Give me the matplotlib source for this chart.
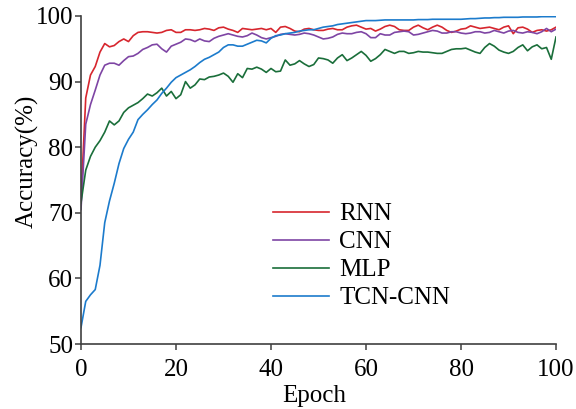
import matplotlib
matplotlib.use("Agg")
import matplotlib.pyplot as plt

epochs = list(range(0, 101))

rnn = [72, 87.5, 91, 92.3, 94.5, 95.8, 95.3, 95.5, 96.1, 96.5,
       96.1, 97.0, 97.5, 97.6, 97.6, 97.5, 97.4, 97.5, 97.8, 97.9,
       97.5, 97.5, 97.9, 97.9, 97.8, 97.9, 98.1, 98.0, 97.8, 98.2,
       98.3, 98.0, 97.8, 97.5, 98.1, 98.0, 97.9, 98.0, 98.1, 97.9,
       98.1, 97.5, 98.3, 98.4, 98.1, 97.7, 97.6, 98.0, 98.1, 97.9,
       97.8, 97.8, 98.0, 98.1, 97.9, 97.9, 98.3, 98.5, 98.6, 98.3,
       98.0, 98.1, 97.7, 98.0, 98.4, 98.6, 98.4, 97.9, 97.8, 97.8,
       98.3, 98.6, 98.2, 97.9, 98.3, 98.6, 98.3, 97.8, 97.5, 97.7,
       98.0, 98.1, 98.5, 98.3, 98.1, 98.2, 98.3, 98.1, 97.9, 98.3,
       98.5, 97.3, 98.2, 98.3, 98.0, 97.5, 97.8, 97.9, 97.7, 97.9,
       98.3]

cnn = [70.5, 83.5, 86.5, 88.7, 91, 92.5, 92.8, 92.8, 92.5, 93.2,
       93.8, 93.9, 94.3, 94.9, 95.2, 95.6, 95.7, 95.0, 94.5, 95.4,
       95.7, 96.0, 96.5, 96.4, 96.1, 96.5, 96.2, 96.1, 96.6, 96.9,
       97.1, 97.3, 97.1, 96.9, 96.8, 97.0, 97.4, 97.1, 96.7, 96.5,
       96.7, 96.9, 97.2, 97.3, 97.2, 97.1, 97.2, 97.4, 97.3, 97.1,
       96.8, 96.5, 96.6, 96.8, 97.2, 97.4, 97.3, 97.3, 97.5, 97.6,
       97.3, 96.7, 96.7, 97.3, 97.1, 97.1, 97.5, 97.6, 97.7, 97.6,
       97.1, 97.2, 97.4, 97.6, 97.8, 97.7, 97.4, 97.4, 97.6, 97.6,
       97.4, 97.3, 97.4, 97.6, 97.6, 97.4, 97.5, 97.8, 97.6, 97.4,
       97.7, 97.8, 97.5, 97.4, 97.6, 97.5, 97.3, 97.6, 98.1, 97.6,
       98.0]

mlp = [71.5, 76.5, 78.6, 80.0, 81.0, 82.3, 84.0, 83.4, 84.0, 85.3,
       86.0, 86.4, 86.8, 87.4, 88.1, 87.8, 88.3, 89.0, 87.8, 88.5,
       87.4, 88.0, 90.0, 89.0, 89.5, 90.4, 90.3, 90.7, 90.8, 91.0,
       91.3, 90.8, 89.9, 91.2, 90.6, 92.0, 91.9, 92.2, 91.9, 91.4,
       92.0, 91.5, 91.6, 93.3, 92.5, 92.7, 93.2, 92.7, 92.3, 92.6,
       93.6, 93.5, 93.3, 92.8, 93.6, 94.1, 93.2, 93.6, 94.1, 94.6,
       94.0, 93.1, 93.5, 94.1, 94.9, 94.6, 94.3, 94.6, 94.6, 94.3,
       94.4, 94.6, 94.5, 94.5, 94.4, 94.3, 94.3, 94.6, 94.9, 95.0,
       95.0, 95.1, 94.8, 94.5, 94.3, 95.2, 95.8, 95.4, 94.8, 94.5,
       94.3, 94.6, 95.2, 95.6, 94.7, 95.3, 95.6, 95.0, 95.2, 93.4,
       96.8]

tcn_cnn = [52.5, 56.5, 57.5, 58.3, 62.0, 68.5, 71.8, 74.5, 77.5, 79.8,
           81.2, 82.3, 84.2, 85.0, 85.7, 86.5, 87.2, 88.2, 89.0, 89.9,
           90.6, 91.0, 91.4, 91.8, 92.3, 92.9, 93.4, 93.7, 94.1, 94.5,
           95.2, 95.6, 95.6, 95.4, 95.4, 95.7, 96.0, 96.3, 96.2, 95.9,
           96.6, 97.0, 97.1, 97.3, 97.4, 97.5, 97.7, 97.8, 97.9, 97.9,
           98.1, 98.3, 98.4, 98.5, 98.7, 98.8, 98.9, 99.0, 99.1, 99.2,
           99.3, 99.3, 99.3, 99.35, 99.4, 99.4, 99.4, 99.4, 99.4, 99.4,
           99.4, 99.45, 99.45, 99.45, 99.5, 99.5, 99.5, 99.5, 99.5, 99.5,
           99.5, 99.55, 99.6, 99.6, 99.65, 99.7, 99.7, 99.75, 99.75, 99.8,
           99.8, 99.8, 99.8, 99.85, 99.85, 99.85, 99.85, 99.9, 99.9, 99.9,
           99.9]

labels = ["RNN", "CNN", "MLP", "TCN-CNN"]
colors = ["#d7262e", "#7e45a4", "#1a6e3a", "#1c7bcc"]
x_ticks = [0, 20, 40, 60, 80, 100]
y_ticks = [50, 60, 70, 80, 90, 100]

plt.rcParams["font.family"] = ["Liberation Serif", "DejaVu Serif"]
plt.rcParams["font.size"] = 18

fig = plt.figure(figsize=(5.76, 4.09), dpi=100)
ax = fig.add_axes([0.1406, 0.1589, 0.8247, 0.802])

for series, lab, col in zip([rnn, cnn, mlp, tcn_cnn], labels, colors):
    ax.plot(epochs, series, color=col, lw=1.2, label=lab)

ax.set_xlim(0, 100)
ax.set_ylim(50, 100)
ax.set_xticks(x_ticks)
ax.set_yticks(y_ticks)
ax.spines["top"].set_visible(False)
ax.spines["right"].set_visible(False)
for s in ["left", "bottom"]:
    ax.spines[s].set_color("#404040")
    ax.spines[s].set_linewidth(1.2)
ax.tick_params(direction="out", length=4, width=1.1, color="#404040",
               labelsize=18)
ax.tick_params(axis="x", pad=6.5)
ax.tick_params(axis="y", pad=1.5)
ax.set_xlabel("Epoch", fontsize=18)
ax.set_ylabel("Accuracy(%)", fontsize=18)
ax.xaxis.set_label_coords(0.49, -0.125)
ax.yaxis.set_label_coords(-0.088, 0.558)

leg = ax.legend(loc="upper left", bbox_to_anchor=(0.404, 0.43), frameon=False,
                fontsize=18, handlelength=2.25, handletextpad=0.4,
                labelspacing=0.22, borderaxespad=0, borderpad=0)

fig.savefig("out.png", dpi=100)
